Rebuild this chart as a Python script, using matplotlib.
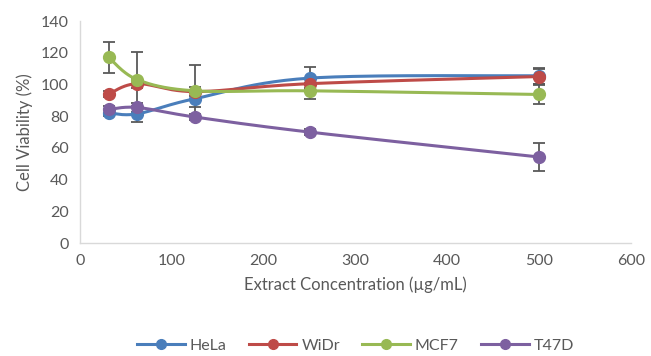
import matplotlib.pyplot as plt
import numpy as np

# concentrations (ug/mL)
conc = [31.25, 62.5, 125, 250, 500]

hela = [82, 81.5, 91, 104, 105.5]
widr = [94, 100.5, 95.5, 100.5, 105]
mcf7 = [117, 103, 96, 96, 93.7]
t47d = [84.3, 85.5, 79.5, 70, 54.3]

hela_err = [2, 5, 5.5, 7, 5]
widr_err = [2, 3, 3, 3, 5]
mcf7_err = [9.5, 17.5, 16, 5, 6]
t47d_err = [2, 3, 2, 2, 9]

names = ['HeLa', 'WiDr', 'MCF7', 'T47D']
colors = ['#4A7EBB', '#BE4B48', '#98B954', '#7D60A0']


def smooth(x, y, n=40):
    # catmull-rom style curve like excel's "smoothed line"
    x = np.asarray(x, float)
    y = np.asarray(y, float)
    px = np.concatenate([[x[0]], x, [x[-1]]])
    py = np.concatenate([[y[0]], y, [y[-1]]])
    xs, ys = [], []
    t = np.linspace(0, 1, n)
    for i in range(1, len(px) - 2):
        p0, p1, p2, p3 = (np.array([px[j], py[j]]) for j in range(i - 1, i + 3))
        c1 = p1 + (p2 - p0) / 6
        c2 = p2 - (p3 - p1) / 6
        b = ((1 - t) ** 3)[:, None] * p1 + (3 * (1 - t) ** 2 * t)[:, None] * c1 \
            + (3 * (1 - t) * t ** 2)[:, None] * c2 + (t ** 3)[:, None] * p2
        xs.extend(b[:, 0])
        ys.extend(b[:, 1])
    return xs, ys


plt.rcParams['font.family'] = 'Lato'
fig = plt.figure(figsize=(6.51, 3.56), dpi=100)
ax = fig.add_axes([0.123, 0.317, 0.846, 0.624])

series = [hela, widr, mcf7, t47d]
errs = [hela_err, widr_err, mcf7_err, t47d_err]
for name, vals, err, c in zip(names, series, errs, colors):
    ax.errorbar(conc, vals, yerr=err, fmt='none', ecolor='#595959',
                elinewidth=1.3, capsize=4, capthick=1.3, zorder=2)
for name, vals, err, c in zip(names, series, errs, colors):
    sx, sy = smooth(conc, vals)
    ax.plot(sx, sy, color=c, lw=2.2, zorder=3)
    ax.plot(conc, vals, 'o', color=c, ms=8.5, zorder=4)
    ax.plot([], [], color=c, lw=2.2, marker='o', ms=7, label=name)

ax.set_xlim(0, 600)
ax.set_ylim(0, 140)
ax.set_xticks(range(0, 601, 100))
ax.set_yticks(range(0, 141, 20))
for s in ['top', 'right']:
    ax.spines[s].set_visible(False)
for s in ['left', 'bottom']:
    ax.spines[s].set_color('#D9D9D9')
    ax.spines[s].set_linewidth(1)
ax.tick_params(length=0, labelsize=11.5, colors='#595959', pad=8)
ax.set_xlabel('Extract Concentration (µg/mL)', fontsize=12, color='#595959', labelpad=6)
ax.set_ylabel('Cell Viability (%)', fontsize=12, color='#595959', labelpad=6)

ax.legend(loc='upper center', bbox_to_anchor=(0.5, -0.365), ncol=4, frameon=False,
          fontsize=11.5, labelcolor='#595959', handlelength=3, columnspacing=1.4,
          handletextpad=0.3)

fig.savefig('out.png', dpi=100)
